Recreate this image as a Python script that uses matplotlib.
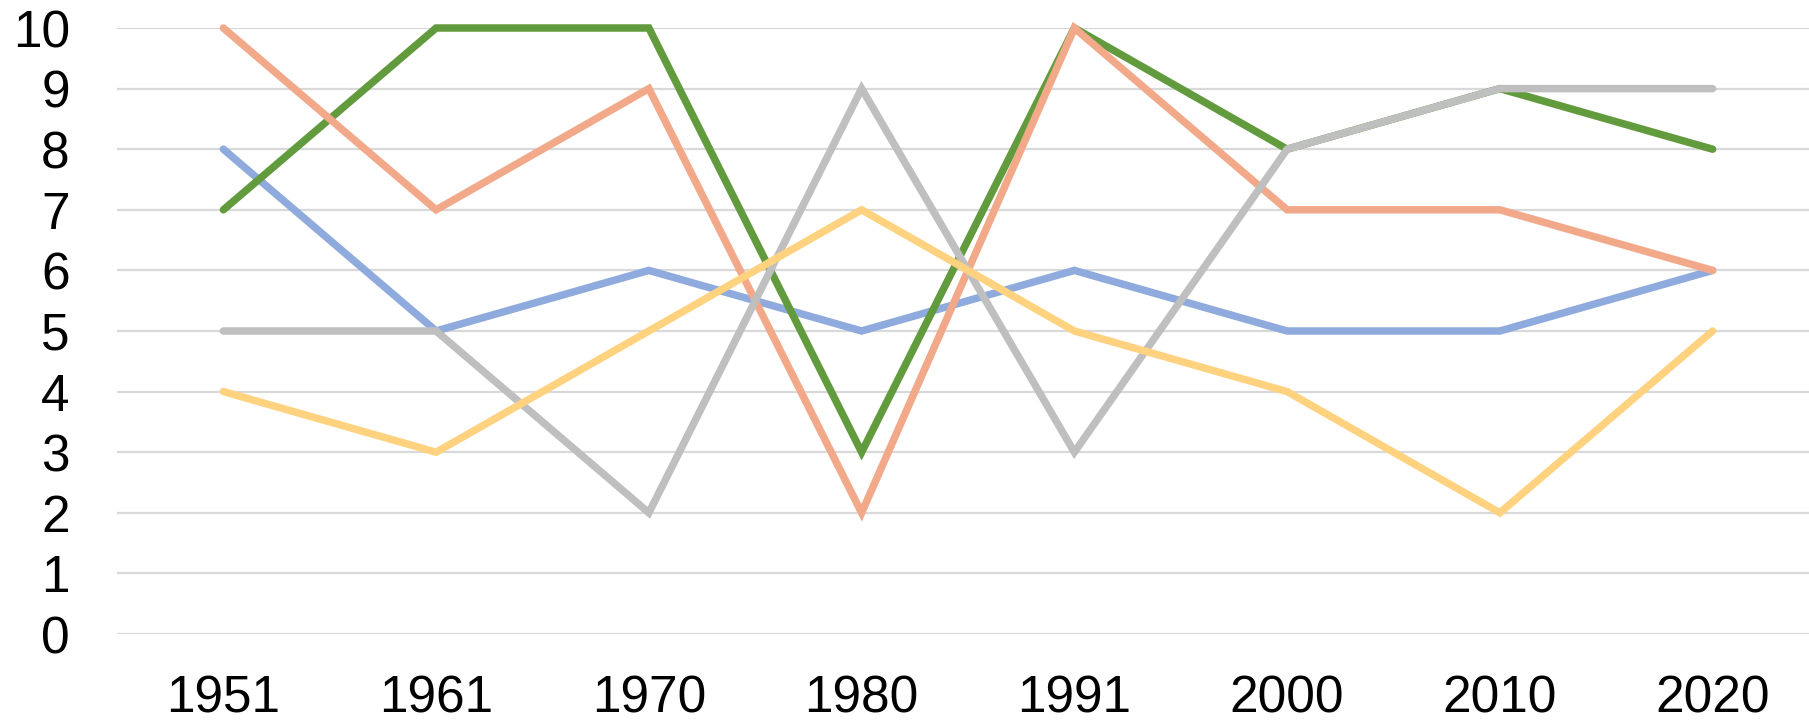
import matplotlib
matplotlib.use("Agg")
import matplotlib.pyplot as plt

# ---- data ----
years = ["1951", "1961", "1970", "1980", "1991", "2000", "2010", "2020"]
blue   = [8, 5, 6, 5, 6, 5, 5, 6]
green  = [7, 10, 10, 3, 10, 8, 9, 8]
salmon = [10, 7, 9, 2, 10, 7, 7, 6]
gray   = [5, 5, 2, 9, 3, 8, 9, 9]
yellow = [4, 3, 5, 7, 5, 4, 2, 5]

# drawing order (bottom -> top) and colours
series = [
    (blue,   "#8FAADC"),
    (green,  "#629B3D"),
    (salmon, "#F2A98A"),
    (gray,   "#BFBFBF"),
    (yellow, "#FFD280"),
]

plt.rcParams["font.family"] = ["Liberation Sans", "DejaVu Sans"]

W, H = 1809, 724
fig = plt.figure(figsize=(W / 100, H / 100), dpi=100)
# axes runs a little past the right edge, like the source
left, right = 117, 1819
top, bottom = 28, 634
ax = fig.add_axes([left / W, (H - bottom) / H, (right - left) / W, (bottom - top) / H])

x = list(range(len(years)))
for vals, col in series:
    ax.plot(x, vals, color=col, linewidth=5.4, solid_capstyle="round",
            solid_joinstyle="miter", clip_on=False, zorder=3)

ax.set_xlim(-0.5, len(years) - 0.5)
ax.set_ylim(0, 10)
ax.set_yticks(range(0, 11))
ax.set_xticks(x)
ax.set_xticklabels(years)
ax.tick_params(axis="both", length=0, labelsize=37)
ax.tick_params(axis="y", pad=34)
ax.tick_params(axis="x", pad=29)
ax.grid(axis="y", color="#D9D9D9", linewidth=1.6, zorder=0)
ax.set_axisbelow(True)
for s in ax.spines.values():
    s.set_visible(False)

fig.savefig("out.png", dpi=100, facecolor="white")
